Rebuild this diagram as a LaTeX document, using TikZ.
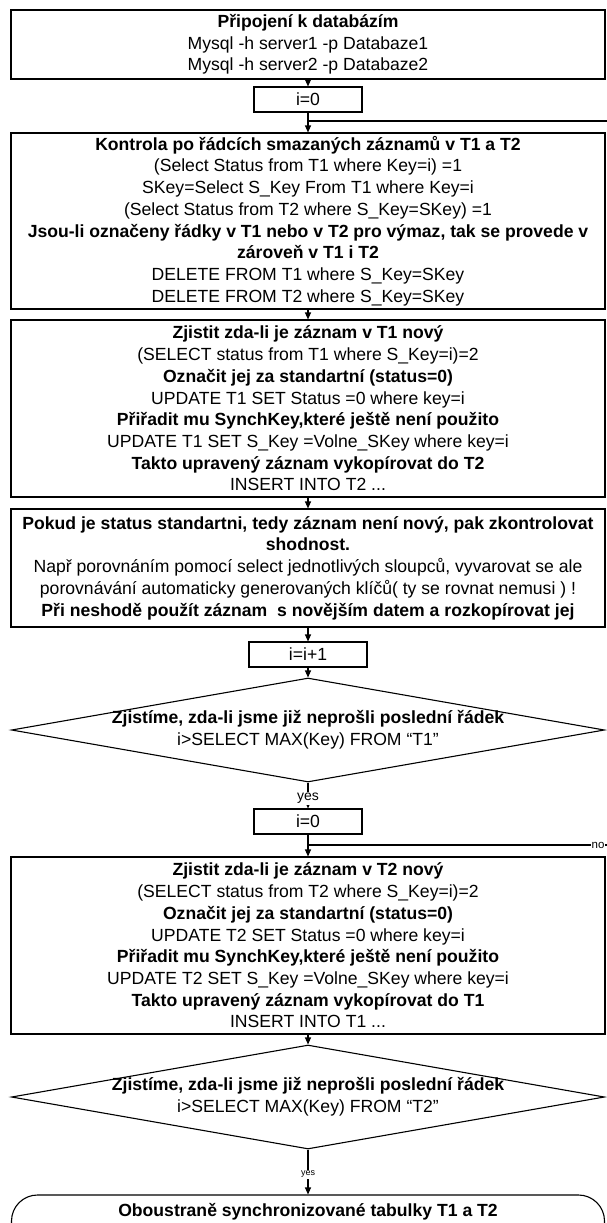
\documentclass[tikz,border=0pt]{standalone}
\usepackage{fontspec}
\setmainfont{Liberation Sans}
\usetikzlibrary{arrows.meta,shapes.geometric}
\begin{document}
\begin{tikzpicture}[x=1pt,y=-1pt,
  every node/.style={font=\fontsize{17.6}{21.7}\selectfont, inner sep=0pt},
  proc/.style={draw, line width=1.1pt, minimum width=594pt, align=center},
  smallbox/.style={draw, line width=1.1pt, minimum width=108pt, minimum height=25pt},
  dec/.style={draw, diamond, line width=1.1pt, minimum width=593pt, minimum height=104pt},
  termbox/.style={draw, line width=1.1pt, rounded corners=26pt, minimum width=593pt, minimum height=64pt},
  flow/.style={line width=1.1pt, -{Triangle[length=7pt,width=6pt]}},
  plainline/.style={line width=1.1pt},
  lbl/.style={fill=white, inner sep=1pt}]
\useasboundingbox (0,0) rectangle (607,1223);
\clip (0,0) rectangle (607,1223);

\node[proc, minimum height=69pt] (b1) at (308,44.5)
  {\textbf{Připojení k databázím}\\Mysql -h server1 -p Databaze1\\Mysql -h server2 -p Databaze2};
\node[smallbox] (i0a) at (308,99.5) {i=0};
\coordinate (ja) at (308,121);
\coordinate (ra) at (607,121);
\node[proc, minimum height=176pt] (b2) at (308,221)
  {\textbf{Kontrola po řádcích smazaných záznamů v T1 a T2}\\
   (Select Status from T1 where Key=i) =1\\
   SKey=Select S\_Key From T1 where Key=i\\
   (Select Status from T2 where S\_Key=SKey) =1\\
   \textbf{Jsou-li označeny řádky v T1 nebo v T2 pro výmaz, tak se provede v}\\
   \textbf{zároveň v T1 i T2}\\
   DELETE FROM T1 where S\_Key=SKey\\
   DELETE FROM T2 where S\_Key=SKey};
\node[proc, minimum height=177pt] (b3) at (308,408.5)
  {\textbf{Zjistit zda-li je záznam v T1 nový}\\
   (SELECT status from T1 where S\_Key=i)=2\\
   \textbf{Označit jej za standartní (status=0)}\\
   UPDATE T1 SET Status =0 where key=i\\
   \textbf{Přiřadit mu SynchKey,které ještě není použito}\\
   UPDATE T1 SET S\_Key =Volne\_SKey where key=i\\
   \textbf{Takto upravený záznam vykopírovat do T2}\\
   INSERT INTO T2 ...};
\node[proc, minimum height=118pt] (b4) at (308,568)
  {\textbf{Pokud je status standartni, tedy záznam není nový, pak zkontrolovat}\\
   \textbf{shodnost.}\\
   Např porovnáním pomocí select jednotlivých sloupců, vyvarovat se ale\\
   porovnávání automaticky generovaných klíčů( ty se rovnat nemusi ) !\\
   \textbf{Při neshodě použít záznam\ \ s novějším datem a rozkopírovat jej}};
\node[smallbox, minimum width=118pt] (inc) at (308,654.5) {i=i+1};
\node[dec] (d1) at (308,730) {};
\node[align=center] (d1t) at (308,730)
  {\textbf{Zjistíme, zda-li jsme již neprošli poslední řádek}\\i>SELECT MAX(Key) FROM “T1”};
\node[smallbox] (i0b) at (308,821.5) {i=0};
\coordinate (jb) at (308,845);
\coordinate (rb) at (607,845);
\node[proc, minimum height=177pt] (b5) at (308,945.5)
  {\textbf{Zjistit zda-li je záznam v T2 nový}\\
   (SELECT status from T2 where S\_Key=i)=2\\
   \textbf{Označit jej za standartní (status=0)}\\
   UPDATE T2 SET Status =0 where key=i\\
   \textbf{Přiřadit mu SynchKey,které ještě není použito}\\
   UPDATE T2 SET S\_Key =Volne\_SKey where key=i\\
   \textbf{Takto upravený záznam vykopírovat do T1}\\
   INSERT INTO T1 ...};
\node[dec] (d2) at (308,1097) {};
\node[align=center] (d2t) at (308,1097)
  {\textbf{Zjistíme, zda-li jsme již neprošli poslední řádek}\\i>SELECT MAX(Key) FROM “T2”};
\node[termbox] (t) at (308,1227) {};
\node (tt) at (308,1212) {\textbf{Oboustraně synchronizované tabulky T1 a T2}};

\draw[flow] (b1) -- (i0a);
\draw[flow] (i0a) -- (b2);
\draw[plainline] (ra) -- (ja);
\draw[flow] (b2) -- (b3);
\draw[flow] (b3) -- (b4);
\draw[flow] (b4) -- (inc);
\draw[flow] (inc) -- (d1);
\draw[flow] (d1) -- node[lbl, pos=0.62, font=\fontsize{14}{16}\selectfont] {yes} (i0b);
\draw[flow] (i0b) -- (b5);
\draw[plainline] (rb) -- node[lbl, pos=0.03, font=\fontsize{11.5}{13}\selectfont] {no} (jb);
\draw[flow] (b5) -- (d2);
\draw[flow] (d2) -- node[lbl, pos=0.55, font=\fontsize{9}{10}\selectfont] {yes} (t);
\end{tikzpicture}
\end{document}
